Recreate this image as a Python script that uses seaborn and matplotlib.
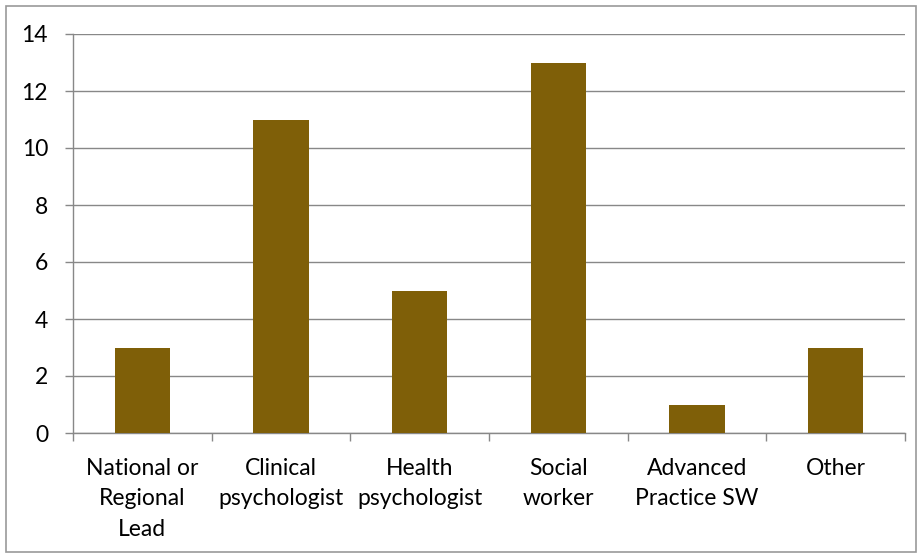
import matplotlib
matplotlib.use("Agg")
import matplotlib.pyplot as plt
import matplotlib.patches as patches
import pandas as pd
import seaborn as sns

categories = ["National or\nRegional\nLead", "Clinical\npsychologist", "Health\npsychologist",
              "Social\nworker", "Advanced\nPractice SW", "Other"]
counts = [3, 11, 5, 13, 1, 3]
y_ticks = [0, 2, 4, 6, 8, 10, 12, 14]

df = pd.DataFrame({"role": categories, "count": counts})

sns.set_theme(style="white")
plt.rcParams['font.family'] = ['Lato', 'DejaVu Sans']

grid_col = "#888888"
bar_col = "#7F5F08"

fig = plt.figure(figsize=(9.21, 5.57), dpi=100)
ax = fig.add_axes([73 / 921, 1 - 433 / 557, (905 - 73) / 921, (433 - 34) / 557])

sns.barplot(data=df, x="role", y="count", color=bar_col, width=0.4, ax=ax,
            saturation=1, linewidth=0, zorder=3)

ax.set_xlim(-0.5, len(categories) - 0.5)
ax.set_ylim(0, 14)
ax.set_yticks(y_ticks)
ax.set_yticklabels([str(t) for t in y_ticks], fontsize=16.5)
ax.yaxis.grid(True, color=grid_col, linewidth=1, zorder=0)
ax.set_axisbelow(True)

ax.set_xticks(range(len(categories)))
ax.set_xticklabels(categories, fontsize=16.5, linespacing=1.55)
ax.set_xticks([i - 0.5 for i in range(len(categories) + 1)], minor=True)
ax.tick_params(axis="x", which="major", length=0, pad=18, bottom=True)
ax.tick_params(axis="x", which="minor", length=6, width=1, direction="out", bottom=True)
ax.tick_params(axis="y", which="major", length=6, width=1, direction="out", pad=12, left=True)
ax.tick_params(axis="both", which="both", color=grid_col, labelcolor="black")

for side in ["top", "right"]:
    ax.spines[side].set_visible(False)
for side in ["left", "bottom"]:
    ax.spines[side].set_color(grid_col)
    ax.spines[side].set_linewidth(1)

ax.set_xlabel("")
ax.set_ylabel("")

fig.patches.append(patches.Rectangle((5.5 / 921, 5.5 / 557), 910 / 921, 546 / 557,
                                     transform=fig.transFigure, fill=False,
                                     edgecolor="#999999", linewidth=1.2))

fig.savefig("out.png", dpi=100)
